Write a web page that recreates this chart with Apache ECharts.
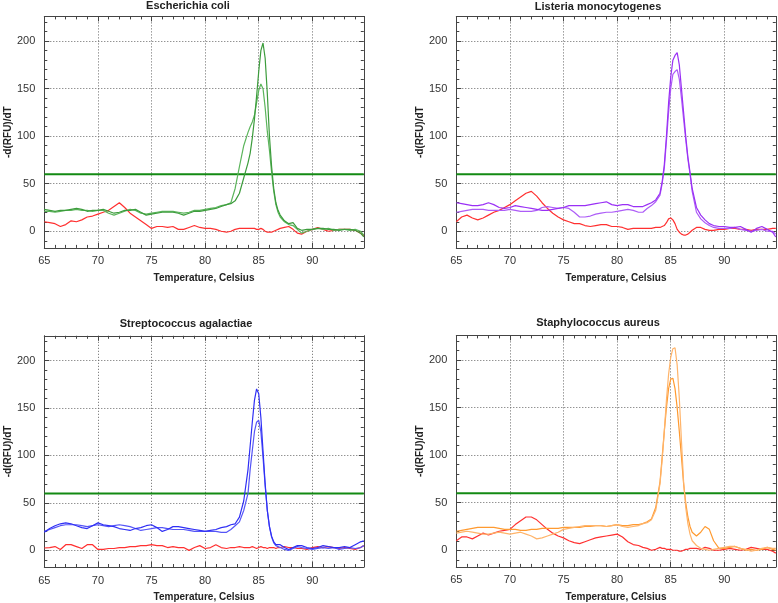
<!DOCTYPE html>
<html><head><meta charset="utf-8">
<script src="https://cdn.jsdelivr.net/npm/echarts@6/dist/echarts.min.js"></script>
<style>html,body{margin:0;padding:0;background:#fff}#c{width:778px;height:603px}</style>
</head><body><div id="c"></div>
<script>
// Temperatures (°C) shared by all curves
const temps = [65,65.5,66,66.5,67,67.5,68,68.5,69,69.5,70,70.5,71,71.5,72,72.5,73,73.5,74,74.5,75,75.5,76,76.5,77,77.5,78,78.5,79,79.5,80,80.5,81,81.5,82,
  82.4,82.8,83.2,83.6,
  84,84.2,84.4,84.6,84.8,85,85.2,85.4,85.6,85.8,86,86.2,86.4,86.6,86.8,87,
  87.4,87.8,88.2,88.6,
  89,89.5,90,90.5,91,91.5,92,92.5,93,93.5,94,94.5,
  94.8];

const titles = ['Escherichia coli','Listeria monocytogenes','Streptococcus agalactiae','Staphylococcus aureus'];
const threshold = 60;
const xTicks = [65,70,75,80,85,90];
const yTicks = [0,50,100,150,200];

// Escherichia coli
const ecoliA = [23,22,21,22,22,23,24,23,21,22, 22,23,21,19,20,22,22,23,20,17, 18,19,20,20,20,19,17,19,21,21, 22,23,24,26,28,
  29,32,40,56,
  72,82,98,118,142,168,190,198,182,145,100,68,45,30,22,17,
  11,8,9,3,
  1,2,2,3,3,2,2,1,2,2,1,-2,
  -6];
const ecoliB = [21,21,20,21,22,22,23,22,22,21, 22,22,19,17,19,21,23,22,19,18, 19,20,21,21,21,20,19,20,22,22, 23,24,25,27,28,
  30,45,68,90,
  104,110,115,122,135,148,155,150,130,105,85,62,42,28,20,15,
  10,7,6,2,
  -2,0,2,3,2,3,1,2,2,1,2,0,
  -4];
const ecoliNeg = [10,9,8,5,7,11,10,12,15,16, 18,20,22,26,30,25,19,15,11,7, 3,5,5,4,5,2,2,4,6,4, 3,3,2,0,-1,
  0,2,3,3,
  3,3,3,3,2,2,3,2,0,-1,-1,-1,0,1,2,3,
  4,5,2,-2,
  -3,0,2,4,2,0,1,2,2,2,1,-2,
  -5];

// Listeria monocytogenes
const listA = [30,29,28,27,27,28,30,28,25,24, 25,27,26,25,24,23,22,22,23,24, 25,27,27,27,27,28,29,30,31,28, 27,28,28,26,26,
  26,28,30,33,
  40,52,70,100,135,162,180,185,188,175,150,125,100,78,62,45,
  25,17,12,8,
  6,5,5,4,4,5,2,-1,3,5,2,-1,
  -6];
const listB = [20,21,22,23,23,23,22,22,22,22, 23,22,21,21,21,22,25,26,25,24, 25,24,20,15,15,16,18,19,20,20, 21,22,23,22,20,
  20,24,27,31,
  38,50,66,95,125,150,165,168,170,160,140,118,96,76,60,42,
  20,13,9,6,
  4,3,3,3,4,2,1,0,1,2,0,0,
  -3];
const listNeg = [10,15,17,14,12,14,17,20,22,25, 28,32,36,40,42,37,30,24,19,15, 12,10,8,8,6,5,6,7,7,5, 5,4,2,3,3,
  3,3,3,4,
  4,5,6,9,13,14,12,8,2,-1,-3,-4,-4,-3,-1,1,
  4,4,2,1,
  1,2,2,3,3,2,2,1,2,2,2,3,
  3];

// Streptococcus agalactiae
const strepA = [19,23,26,28,29,28,26,24,23,26, 29,27,26,25,23,22,21,23,24,26, 27,24,20,22,25,25,24,23,22,21, 20,21,22,24,25,
  27,28,35,52,
  85,110,135,158,170,165,140,105,70,42,25,15,9,6,6,6,
  3,1,3,5,
  5,3,2,3,5,4,3,3,4,3,6,9,
  10];
const strepB = [20,22,24,26,27,27,27,26,25,26, 27,26,25,26,27,26,25,23,21,22, 23,24,24,23,22,22,22,21,20,20, 20,20,20,19,19,
  22,26,30,42,
  60,85,105,125,135,137,125,98,68,42,25,14,8,5,4,3,
  1,0,2,4,
  3,2,1,2,3,2,3,1,2,3,2,3,
  5];
const strepNeg = [2.5,3,4,1,6,6,4,2,6,6, 1,1,2,2,3,3,4,4,5,5, 6,5,5,3,4,3,3,0,3,5, 2,3,6,3,2,
  3,3,4,3,
  3,3,4,3,2,3,4,3,3,2,3,3,3,2,3,3,
  4,3,3,2,
  2,1,3,4,3,4,3,2,3,2,1,3,
  5];

// Staphylococcus aureus
const staphA = [18,19,20,19,18,17,17,18,19,18, 17,18,19,17,15,12,13,15,17,19, 22,23,24,25,26,26,26,26,25,26, 27,25,24,25,26,
  28,29,32,42,
  70,95,125,158,185,203,212,213,195,160,115,72,45,28,17,10,
  5,2,1,0,
  1,2,3,4,4,2,1,-1,0,2,3,2,
  2];
const staphB = [20,21,22,23,24,24,24,24,23,22, 22,22,21,21,22,22,23,23,23,23, 24,24,24,24,25,25,26,26,25,26, 27,26,26,27,27,
  28,30,33,45,
  72,98,125,150,170,180,181,170,150,125,98,70,50,35,25,19,
  15,19,25,22,
  10,2,2,3,4,2,0,1,0,1,3,1,
  0];
const staphNeg = [10,14,14,12,15,18,16,18,20,21, 22,27,31,35,35,32,27,22,18,15, 13,10,8,7,9,11,13,14,15,16, 17,14,9,6,5,
  3,2,0,1,
  3,2,2,1,1,1,0,0,0,-1,-1,0,1,1,2,2,
  2,1,3,2,
  0,0,1,2,1,0,1,3,2,1,1,-1,
  -3];

const panels = [
  {a: ecoliA, b: ecoliB, neg: ecoliNeg, ca: '#3c9c3c', cb: '#5cb55c'},
  {a: listA, b: listB, neg: listNeg, ca: '#9a30f5', cb: '#ad5cf7'},
  {a: strepA, b: strepB, neg: strepNeg, ca: '#2f2ff5', cb: '#5555f7'},
  {a: staphA, b: staphB, neg: staphNeg, ca: '#ffb46a', cb: '#ff9a30'}
];

const X_MIN = 65, X_MAX = 94.8, Y_MIN = -17.5, Y_MAX = 226;
const FONT = 'Liberation Sans, Arial, sans-serif';
const AX = '#444';
const gridPos = [
  {left: 44.3, top: 16.4},
  {left: 456.3, top: 16.4},
  {left: 44.3, top: 335.8},
  {left: 456.3, top: 335.4}
];
const titlePos = [[188, 6], [598, 6.5], [186, 324], [598, 323]];

const grids = [], xAxes = [], yAxes = [], series = [], graphics = [];
panels.forEach((p, gi) => {
  grids.push({left: gridPos[gi].left, top: gridPos[gi].top, width: 319.5, height: 231.5});
  const tickCommon = {show: true, inside: true, length: 5, lineStyle: {color: AX, width: 1}};
  const minorCommon = {show: true, splitNumber: 5, length: 3, lineStyle: {color: AX, width: 1}};
  xAxes.push({
    type: 'value', gridIndex: gi, min: X_MIN, max: X_MAX, position: 'bottom',
    axisLine: {show: true, onZero: false, lineStyle: {color: AX, width: 1}},
    axisTick: tickCommon, minorTick: minorCommon,
    axisLabel: {show: true, margin: 8, color: '#333', fontSize: 11, fontFamily: FONT, showMaxLabel: false,
      formatter: v => (xTicks.indexOf(v) >= 0 ? String(v) : '')},
    splitLine: {show: true, lineStyle: {color: '#666', type: [1, 2], width: 1}},
    name: 'Temperature, Celsius', nameLocation: 'middle', nameGap: 25,
    nameTextStyle: {fontWeight: 'bold', fontSize: 10, color: '#222', fontFamily: FONT}
  });
  xAxes.push({
    type: 'value', gridIndex: gi, min: X_MIN, max: X_MAX, position: 'top',
    axisLine: {show: true, onZero: false, lineStyle: {color: AX, width: 1}},
    axisTick: tickCommon, minorTick: minorCommon,
    axisLabel: {show: false}, splitLine: {show: false}
  });
  yAxes.push({
    type: 'value', gridIndex: gi, min: Y_MIN, max: Y_MAX, position: 'left',
    axisLine: {show: true, onZero: false, lineStyle: {color: AX, width: 1}},
    axisTick: tickCommon, minorTick: minorCommon,
    axisLabel: {show: true, margin: 9, color: '#333', fontSize: 11, fontFamily: FONT, showMinLabel: false, showMaxLabel: false,
      formatter: v => (yTicks.indexOf(v) >= 0 ? String(v) : '')},
    splitLine: {show: true, lineStyle: {color: '#666', type: [1, 2], width: 1}},
    name: '-d(RFU)/dT', nameLocation: 'middle', nameGap: 27,
    nameTextStyle: {fontWeight: 'bold', fontSize: 10, color: '#222', fontFamily: FONT}
  });
  yAxes.push({
    type: 'value', gridIndex: gi, min: Y_MIN, max: Y_MAX, position: 'right',
    axisLine: {show: true, onZero: false, lineStyle: {color: AX, width: 1}},
    axisTick: tickCommon, minorTick: minorCommon,
    axisLabel: {show: false}, splitLine: {show: false}
  });
  const xi = gi * 2, yi = gi * 2;
  const mk = arr => temps.map((t, i) => [t, arr[i]]);
  series.push({type: 'line', xAxisIndex: xi, yAxisIndex: yi, data: [[X_MIN, threshold], [X_MAX, threshold]],
    showSymbol: false, lineStyle: {color: '#138a13', width: 2}, z: 3, silent: true});
  series.push({type: 'line', xAxisIndex: xi, yAxisIndex: yi, data: mk(p.neg), showSymbol: false,
    lineStyle: {color: '#ff3030', width: 1.2}, z: 4});
  series.push({type: 'line', xAxisIndex: xi, yAxisIndex: yi, data: mk(p.b), showSymbol: false,
    lineStyle: {color: p.cb, width: 1.2}, z: 5});
  series.push({type: 'line', xAxisIndex: xi, yAxisIndex: yi, data: mk(p.a), showSymbol: false,
    lineStyle: {color: p.ca, width: 1.2}, z: 6});
  graphics.push({type: 'text', x: titlePos[gi][0], y: titlePos[gi][1],
    style: {text: titles[gi], textAlign: 'center', textVerticalAlign: 'middle',
      font: 'bold 11px ' + FONT, fill: '#222'}});
});

const chart = echarts.init(document.getElementById('c'), null, {renderer: 'canvas'});
chart.setOption({
  animation: false,
  grid: grids, xAxis: xAxes, yAxis: yAxes, series: series, graphic: graphics
});
</script>
</body></html>
